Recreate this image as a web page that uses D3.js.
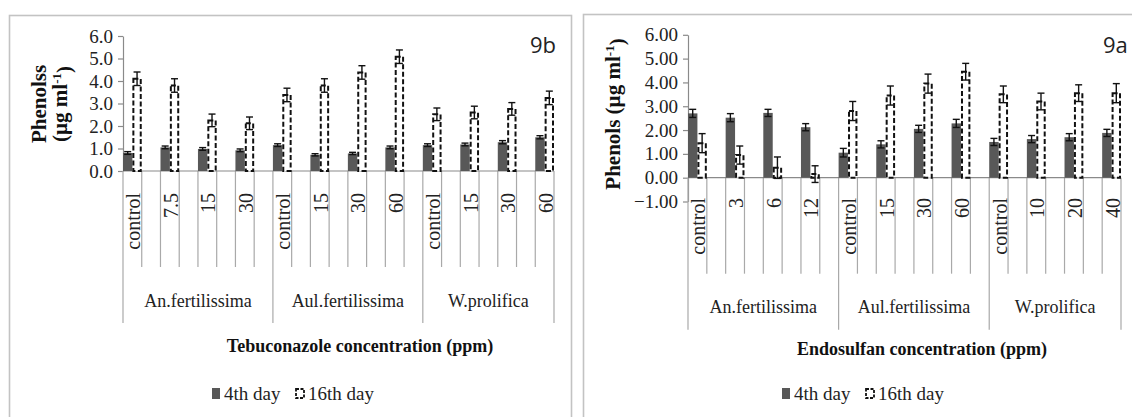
<!DOCTYPE html>
<html>
<head>
<meta charset="utf-8">
<script src="https://cdn.jsdelivr.net/npm/d3@7"></script>
<style>
  body { margin: 0; background: #fff; }
</style>
</head>
<body>
<svg id="chart" width="1132" height="417"></svg>
<script>
// species groups, same for both panels
var groups = ["An.fertilissima", "Aul.fertilissima", "W.prolifica"];

// 9b - tebuconazole
var tebuConc = ["control", "7.5", "15", "30", "control", "15", "30", "60", "control", "15", "30", "60"];
var tebuDay4 = [0.80, 1.05, 0.98, 0.92, 1.15, 0.72, 0.78, 1.05, 1.15, 1.18, 1.28, 1.50];
var tebuDay4Err = [0.06, 0.06, 0.06, 0.06, 0.06, 0.05, 0.05, 0.06, 0.06, 0.06, 0.07, 0.07];
var tebuDay16 = [4.10, 3.80, 2.25, 2.12, 3.38, 3.80, 4.38, 5.08, 2.52, 2.60, 2.76, 3.25];
var tebuDay16Err = [0.30, 0.30, 0.28, 0.28, 0.30, 0.30, 0.30, 0.30, 0.28, 0.28, 0.28, 0.30];
var tebuTicks = [0, 1, 2, 3, 4, 5, 6];

// 9a - endosulfan
var endoConc = ["control", "3", "6", "12", "control", "15", "30", "60", "control", "10", "20", "40"];
var endoDay4 = [2.70, 2.52, 2.72, 2.12, 1.05, 1.40, 2.05, 2.28, 1.50, 1.62, 1.70, 1.88];
var endoDay4Err = [0.17, 0.17, 0.15, 0.15, 0.18, 0.15, 0.15, 0.17, 0.15, 0.15, 0.15, 0.15];
var endoDay16 = [1.45, 0.95, 0.42, 0.15, 2.80, 3.45, 3.95, 4.45, 3.50, 3.20, 3.55, 3.55];
var endoDay16Err = [0.40, 0.38, 0.45, 0.35, 0.40, 0.40, 0.40, 0.35, 0.35, 0.35, 0.35, 0.40];
var endoTicks = [-1, 0, 1, 2, 3, 4, 5, 6];

var SERIF = "'Liberation Serif', 'Times New Roman'";
var svg = d3.select("#chart");

// inline font styling on every text node
function serif(sel, size, bold) {
    sel.style("font-family", SERIF)
        .style("font-size", size + "px")
        .style("font-weight", bold ? "bold" : "normal");
    return sel;
}

function drawPanel(p) {
    var g = svg.append("g");

    // outer frame of the excel chart
    g.append("rect")
        .attr("x", p.frameX).attr("y", p.frameY)
        .attr("width", p.frameW).attr("height", 500)
        .attr("fill", "none")
        .attr("stroke", "#c3c3c3")
        .attr("stroke-width", 1.6);

    var x = d3.scaleBand()
        .domain(d3.range(p.conc.length))
        .range([p.x0, p.x1])
        .paddingInner(0.5)
        .paddingOuter(0);

    var y = d3.scaleLinear()
        .domain([p.ticks[0], 6])
        .range([p.yBottom, p.yTop]);

    var bw = x.bandwidth() / 2;
    var y0 = y(0);

    // y axis
    g.append("g")
        .attr("transform", "translate(" + p.x0 + ",0)")
        .call(d3.axisLeft(y).tickValues(p.ticks).tickFormat(d3.format(p.fmt)).tickSize(5).tickSizeOuter(0).tickPadding(5))
        .call(function(a) {
            a.attr("font-family", null).attr("font-size", null);
            a.select(".domain").attr("stroke", "#8a8a8a").attr("stroke-width", 1.2);
            a.selectAll(".tick line").attr("stroke", "#8a8a8a").attr("stroke-width", 1.2);
            serif(a.selectAll(".tick text"), 19).attr("fill", "#222");
        });

    // category separators below the axis
    var sep = [];
    p.conc.forEach(function(c, i) {
        sep.push({ x: x(i), long: i % 4 === 0 });
        sep.push({ x: x(i) + x.bandwidth(), long: i === p.conc.length - 1 });
    });
    g.selectAll(".sep")
        .data(sep)
        .enter()
        .append("line")
        .attr("x1", function(d) { return d.x; })
        .attr("x2", function(d) { return d.x; })
        .attr("y1", y0)
        .attr("y2", function(d) { return y0 + (d.long ? 152 : 96); })
        .attr("stroke", "#a9a9a9")
        .attr("stroke-width", 1.2);

    // x axis line at zero
    g.append("line")
        .attr("x1", p.x0).attr("x2", p.x1)
        .attr("y1", y0).attr("y2", y0)
        .attr("stroke", "#8a8a8a")
        .attr("stroke-width", 1.2);

    // 4th day bars
    g.selectAll(".d4")
        .data(p.day4)
        .enter()
        .append("rect")
        .attr("x", function(d, i) { return x(i); })
        .attr("y", function(d) { return y(d); })
        .attr("width", bw)
        .attr("height", function(d) { return y0 - y(d); })
        .attr("fill", "#585858");

    // 16th day bars, dashed outline
    g.selectAll(".d16")
        .data(p.day16)
        .enter()
        .append("rect")
        .attr("x", function(d, i) { return x(i) + bw + 1; })
        .attr("y", function(d) { return y(d); })
        .attr("width", bw - 2)
        .attr("height", function(d) { return y0 - y(d); })
        .attr("fill", "#fff")
        .attr("stroke", "#111")
        .attr("stroke-width", 2)
        .attr("stroke-dasharray", "5,2.5");

    // error bars
    var errs = [];
    p.day4.forEach(function(v, i) { errs.push({ cx: x(i) + bw / 2, v: v, e: p.day4Err[i] }); });
    p.day16.forEach(function(v, i) { errs.push({ cx: x(i) + bw * 1.5, v: v, e: p.day16Err[i] }); });
    var eg = g.selectAll(".err")
        .data(errs)
        .enter()
        .append("g")
        .attr("stroke", "#111")
        .attr("stroke-width", 1.4);
    eg.append("line")
        .attr("x1", function(d) { return d.cx; }).attr("x2", function(d) { return d.cx; })
        .attr("y1", function(d) { return y(d.v - d.e); }).attr("y2", function(d) { return y(d.v + d.e); });
    eg.append("line")
        .attr("x1", function(d) { return d.cx - 3.5; }).attr("x2", function(d) { return d.cx + 3.5; })
        .attr("y1", function(d) { return y(d.v + d.e); }).attr("y2", function(d) { return y(d.v + d.e); });
    eg.append("line")
        .attr("x1", function(d) { return d.cx - 3.5; }).attr("x2", function(d) { return d.cx + 3.5; })
        .attr("y1", function(d) { return y(d.v - d.e); }).attr("y2", function(d) { return y(d.v - d.e); });

    // concentration labels, rotated
    serif(g.selectAll(".cat")
        .data(p.conc)
        .enter()
        .append("text")
        .attr("transform", function(d, i) {
            return "translate(" + (x(i) + x.bandwidth() / 2 + 1) + "," + p.labelTop + ") rotate(-90)";
        })
        .attr("dy", "0.35em")
        .attr("text-anchor", "end")
        .attr("fill", "#222")
        .text(function(d) { return d; }), 20);

    // species labels
    serif(g.selectAll(".grp")
        .data(groups)
        .enter()
        .append("text")
        .attr("x", function(d, i) {
            var a = x(i * 4);
            var b = i === groups.length - 1 ? p.x1 : x(i * 4 + 4);
            return (a + b) / 2;
        })
        .attr("y", p.groupY)
        .attr("text-anchor", "middle")
        .attr("fill", "#222")
        .text(function(d) { return d; }), 18);

    // x title
    serif(g.append("text")
        .attr("x", p.titleX)
        .attr("y", p.titleY)
        .attr("text-anchor", "middle")
        .attr("fill", "#111")
        .text(p.title), 18, true);

    // y title
    p.yTitle.forEach(function(t) {
        var yt = serif(g.append("text")
            .attr("transform", "translate(" + t.x + "," + p.yTitleY + ") rotate(-90)")
            .attr("text-anchor", "middle")
            .attr("fill", "#111"), 21, true);
        yt.append("tspan").text(t.text);
        if (t.sup) {
            yt.append("tspan").attr("dy", "-0.45em").style("font-size", "13px").text("-1");
            yt.append("tspan").attr("dy", "0.45em").text(")");
        }
    });

    // panel tag
    g.append("text")
        .attr("x", p.tagX)
        .attr("y", 53)
        .attr("fill", "#222")
        .style("font-family", "'Open Sans', 'DejaVu Sans'")
        .style("font-size", "22px")
        .text(p.tag);

    // legend
    g.append("rect")
        .attr("x", p.legX).attr("y", 388)
        .attr("width", 8).attr("height", 11)
        .attr("fill", "#585858");
    serif(g.append("text")
        .attr("x", p.legX + 12).attr("y", 400)
        .attr("fill", "#222")
        .text("4th day"), 19);
    g.append("rect")
        .attr("x", p.legX + 84).attr("y", 389)
        .attr("width", 8).attr("height", 9)
        .attr("fill", "#fff")
        .attr("stroke", "#111")
        .attr("stroke-width", 1.8)
        .attr("stroke-dasharray", "3,1.5");
    serif(g.append("text")
        .attr("x", p.legX + 96).attr("y", 400)
        .attr("fill", "#222")
        .text("16th day"), 19);
}

drawPanel({
    frameX: 9.5, frameY: 15.5, frameW: 562,
    x0: 123, x1: 554, yTop: 36, yBottom: 171,
    ticks: tebuTicks, fmt: ".1f",
    conc: tebuConc, day4: tebuDay4, day4Err: tebuDay4Err, day16: tebuDay16, day16Err: tebuDay16Err,
    labelTop: 193, groupY: 307,
    title: "Tebuconazole concentration (ppm)", titleX: 360, titleY: 352,
    yTitle: [{ x: 46, text: "Phenolss" }, { x: 67, text: "(µg ml", sup: true }],
    yTitleY: 104,
    tag: "9b", tagX: 530,
    legX: 212
});

drawPanel({
    frameX: 583.5, frameY: 14.5, frameW: 600,
    x0: 688, x1: 1121, yTop: 34.8, yBottom: 201.5,
    ticks: endoTicks, fmt: ".2f",
    conc: endoConc, day4: endoDay4, day4Err: endoDay4Err, day16: endoDay16, day16Err: endoDay16Err,
    labelTop: 198, groupY: 313,
    title: "Endosulfan concentration (ppm)", titleX: 922, titleY: 355,
    yTitle: [{ x: 620, text: "Phenols (µg ml", sup: true }],
    yTitleY: 114,
    tag: "9a", tagX: 1103,
    legX: 782
});
</script>
</body>
</html>
